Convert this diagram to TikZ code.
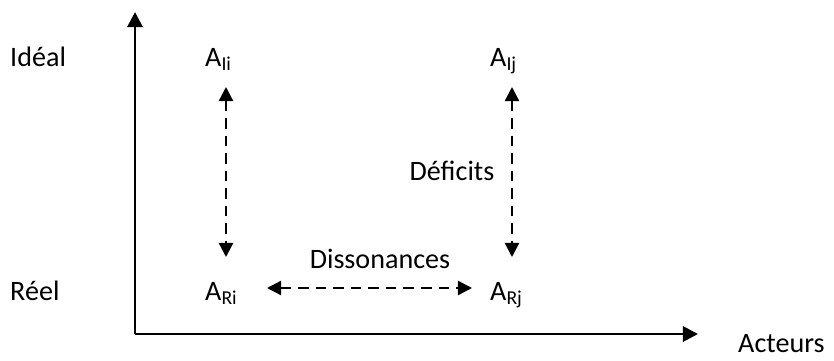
\documentclass[tikz,border=0pt]{standalone}
\usepackage{fontspec}
\setmainfont{Carlito}
\usetikzlibrary{arrows.meta,positioning,calc}
\tikzset{
  axis/.style={
    line width=2.5pt,
    -{Triangle[length=13pt,width=13pt]}
  },
  gap/.style={
    line width=2pt,
    dash pattern=on 9pt off 6pt,
    {Triangle[length=12pt,width=12pt]}-{Triangle[length=12pt,width=12pt]}
  },
  lab/.style={
    inner sep=0pt,
    anchor=base west,
    font=\fontsize{24}{29}\selectfont
  },
}
\begin{document}
\begin{tikzpicture}[x=0.03cm,y=-0.03cm]
\useasboundingbox (0,0) rectangle (834,360);
% axes
\coordinate (o) at (135,334);
\coordinate (ytop) at (135,12);
\coordinate (xend) at (698,334);
\draw[axis] (o) -- (ytop);
\draw[axis] (o) -- (xend);
% labels
\node[lab] (ideal) at (10,66) {Idéal};
\node[lab] (reel) at (10,300) {Réel};
\node[lab] (acteurs) at (738,352) {Acteurs};
\node[lab] (aii) at (205,66) {A\textsubscript{Ii}};
\node[lab] (aij) at (490,66) {A\textsubscript{Ij}};
\node[lab] (ari) at (205,300) {A\textsubscript{Ri}};
\node[lab] (arj) at (490,300) {A\textsubscript{Rj}};
% gaps
\draw[gap] ($(aii.base west)+(21,21)$) -- ($(ari.base west)+(21,-43)$);
\draw[gap] ($(aij.base west)+(22,21)$) -- ($(arj.base west)+(22,-43)$);
\draw[gap] ($(ari.base west)+(62,-12)$) -- ($(arj.base west)+(-18,-12)$);
\node[lab, anchor=base] (dissonances) at (380,268) {Dissonances};
\node[lab, anchor=base] (deficits) at (452,180) {Déficits};
\end{tikzpicture}
\end{document}
